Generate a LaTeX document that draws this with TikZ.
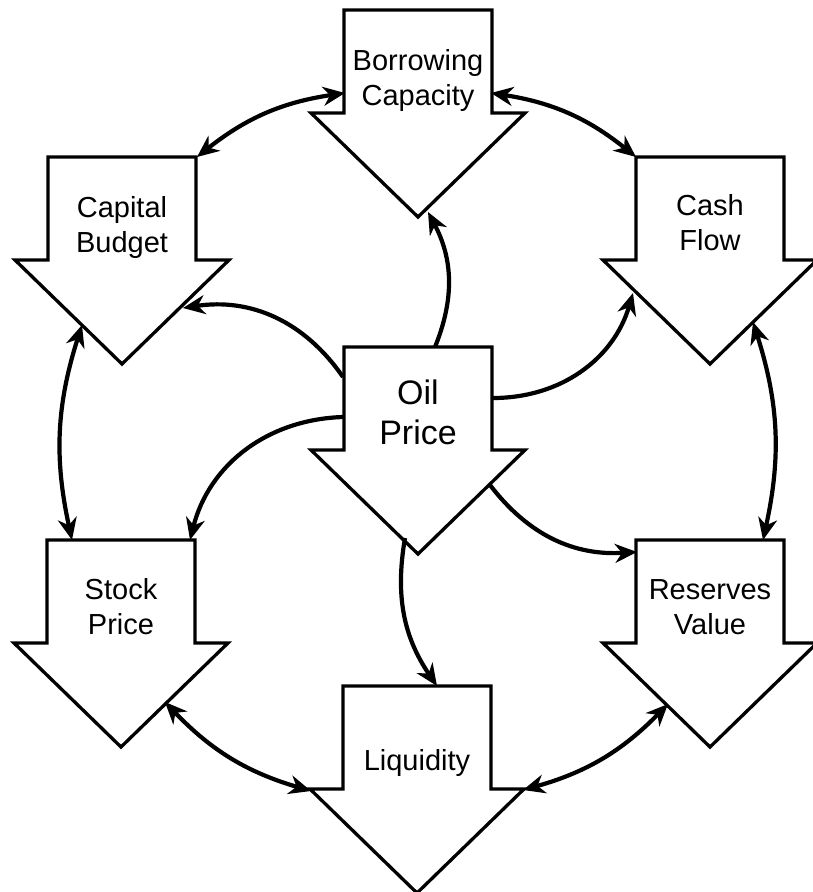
\documentclass[tikz,border=0pt]{standalone}
\usepackage{fontspec}
\setmainfont{Liberation Sans}
\usetikzlibrary{arrows.meta}
\tikzset{
  shapeline/.style={draw=black, fill=white, line width=3.3pt, line join=miter},
  lbl/.style={align=center, inner sep=0pt, font=\fontsize{29}{35}\selectfont, text=black},
  biglbl/.style={align=center, inner sep=0pt, font=\fontsize{34}{40}\selectfont, text=black},
  tip/.tip={Stealth[length=22pt,width=19pt,inset=7pt]},
  conn/.style={line width=4.2pt, -tip},
  dconn/.style={line width=4.2pt, tip-tip},
}
\newcommand\dshape[3]{%
  \draw[shapeline] (#2-74,#3) -- (#2+74,#3) -- (#2+74,#3+103) -- (#2+107,#3+103)
    -- (#2,#3+207) -- (#2-107,#3+103) -- (#2-74,#3+103) -- cycle;
  \coordinate (#1) at (#2,#3);}
\begin{document}
\begin{tikzpicture}[x=1pt,y=-1pt]
\useasboundingbox (0,0) rectangle (813,892);
\fill[white] (0,0) rectangle (813,892);
% shapes
\dshape{bc}{418}{10}
\dshape{cb}{122}{157}
\dshape{cf}{710}{157}
\dshape{op}{418}{347}
\dshape{sp}{121}{540}
\dshape{rv}{710}{540}
\dshape{lq}{417}{686}
% labels
\node[lbl] (bct) at (418,80) {Borrowing\\Capacity};
\node[lbl] (cbt) at (122,227) {Capital\\Budget};
\node[lbl] (cft) at (710,222.5) {Cash\\Flow};
\node[biglbl] (opt) at (418,412.5) {Oil\\Price};
\node[lbl] (spt) at (121,607) {Stock\\Price};
\node[lbl] (rvt) at (710,607.5) {Reserves\\Value};
\node[lbl] (lqt) at (417,762.5) {Liquidity};
% connector end points
\coordinate (bc-w) at (345,93);
\coordinate (bc-e) at (491,93);
\coordinate (bc-tip) at (428,212);
\coordinate (cb-ne) at (197,157);
\coordinate (cb-sw) at (82,325);
\coordinate (cb-se) at (183,308);
\coordinate (cf-nw) at (636,157);
\coordinate (cf-se) at (753,322);
\coordinate (cf-sw) at (633,293);
\coordinate (sp-n1) at (72,540);
\coordinate (sp-n2) at (190,540);
\coordinate (sp-se) at (165,702);
\coordinate (rv-n) at (763,540);
\coordinate (rv-w) at (637,552);
\coordinate (rv-sw) at (668,704);
\coordinate (lq-w) at (311,791);
\coordinate (lq-e) at (523,790);
\coordinate (lq-n) at (437,686);
\coordinate (op-n) at (435,347);
\coordinate (op-w1) at (343,377);
\coordinate (op-w2) at (343,417);
\coordinate (op-e) at (492,398);
\coordinate (op-se) at (490,485);
\coordinate (op-sw) at (405,538);
% outer ring
\draw[dconn] (bc-w) to[bend right=15] (cb-ne);
\draw[dconn] (cb-sw) to[bend right=15] (sp-n1);
\draw[dconn] (sp-se) to[bend right=15] (lq-w);
\draw[dconn] (lq-e) to[bend right=15] (rv-sw);
\draw[dconn] (rv-n) to[bend right=15] (cf-se);
\draw[dconn] (cf-nw) to[bend right=15] (bc-e);
% from oil price
\draw[conn] (op-n) to[bend right=25] (bc-tip);
\draw[conn] (op-w1) to[bend right=32] (cb-se);
\draw[conn] (op-e) to[bend right=37] (cf-sw);
\draw[conn] (op-w2) to[bend right=37] (sp-n2);
\draw[conn] (op-se) to[bend right=28] (rv-w);
\draw[conn] (op-sw) to[bend right=22] (lq-n);
\end{tikzpicture}
\end{document}
